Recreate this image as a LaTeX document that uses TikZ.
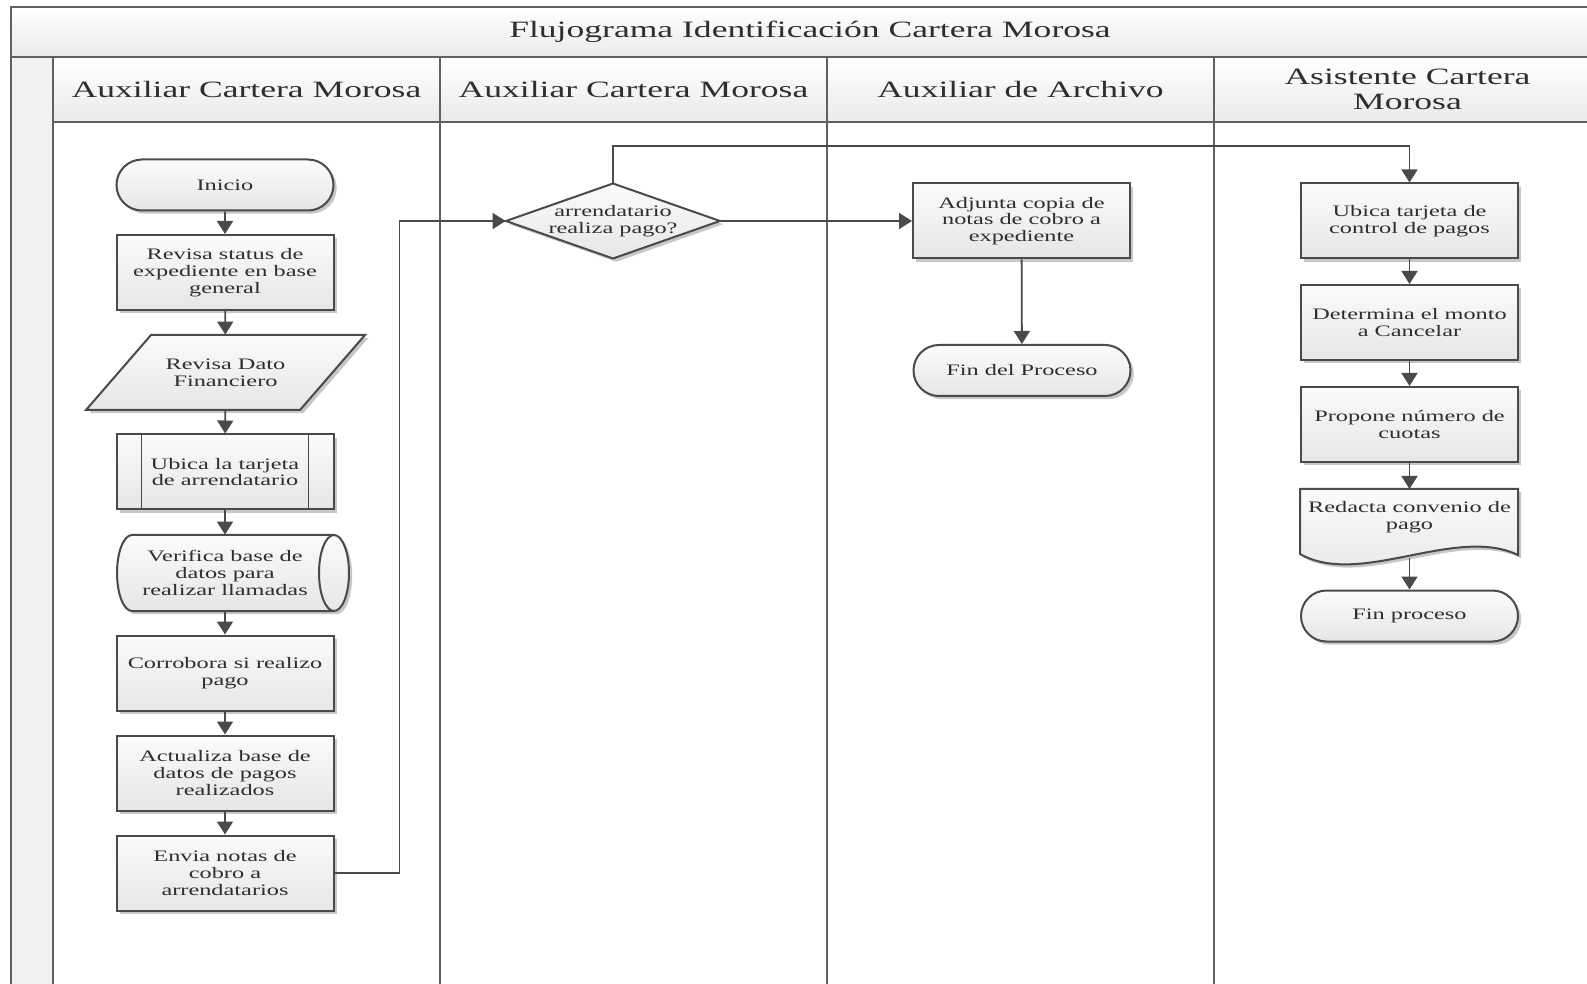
\documentclass[tikz,border=0pt]{standalone}
\usepackage{fontspec}
\newfontfamily\dgfont[FakeStretch=1.52]{Liberation Serif}
\usetikzlibrary{shapes.geometric,shapes.misc,arrows.meta,shadows}
\definecolor{linec}{HTML}{4A4A4A}
\definecolor{framec}{HTML}{606060}
\definecolor{txtc}{HTML}{2E2E2E}
\definecolor{boxtop}{HTML}{FBFBFB}
\definecolor{boxbot}{HTML}{E6E6E6}
\definecolor{hdrbot}{HTML}{EAEAEA}
\definecolor{stripc}{HTML}{F2F2F2}
\begin{document}
\begin{tikzpicture}[x=0.5pt,y=-0.5pt,
  frame/.style={draw=framec, line width=1pt},
  ln/.style={draw=linec, line width=0.9pt},
  arr/.style={ln, -{Triangle[width=8pt,length=6.5pt]}},
  shd/.style={drop shadow={shadow xshift=1.6pt, shadow yshift=-1.6pt, opacity=0.22, fill=black}},
  shapefill/.style={draw=linec, line width=1pt, top color=boxtop, bottom color=boxbot, shd},
  txt/.style={align=center, text=txtc, font=\dgfont\fontsize{8}{8.4}\selectfont, inner sep=0pt},
  box/.style={txt, shapefill, rectangle, minimum width=108.5pt, minimum height=37.5pt},
  term/.style={txt, shapefill, rounded rectangle, minimum width=108.5pt, minimum height=25.5pt},
  inv/.style={txt, rectangle, minimum width=20pt},
  hdr/.style={align=center, text=txtc, font=\dgfont\fontsize{11.7}{12.2}\selectfont, inner sep=0pt}
]
\useasboundingbox (0,0) rectangle (1587,984);
\begin{scope}
\clip (0,0) rectangle (1587,984);
\fill[white] (0,0) rectangle (1587,984);
\shade[top color=white, bottom color=hdrbot] (11,7) rectangle (1610,57);
\shade[top color=white, bottom color=hdrbot] (53,57) rectangle (1610,122);
\fill[stripc] (11,57) rectangle (53,990);
\draw[frame] (11,990) -- (11,7) -- (1610,7);
\draw[frame] (11,57) -- (1610,57);
\draw[frame] (53,57) -- (53,990);
\draw[frame] (53,122) -- (1610,122);
\foreach \x in {440,827,1214} \draw[frame] (\x,57) -- (\x,990);
\end{scope}

% title and lane headers
\node[hdr] (title) at (810,32) {Flujograma Identificación Cartera Morosa};
\node[hdr] (h1) at (246.5,89.5) {Auxiliar Cartera Morosa};
\node[hdr] (h2) at (633.5,89.5) {Auxiliar Cartera Morosa};
\node[hdr] (h3) at (1020.5,89.5) {Auxiliar de Archivo};
\node[hdr] (h4) at (1407.5,89.5) {Asistente Cartera\\Morosa};

% lane 1
\node[term] (n1) at (225,185) {Inicio};
\node[box] (n2) at (225,272.5) {Revisa status de\\expediente en base\\general};
\path[shapefill] (86,410) -- (300,410) -- (365,335) -- (151,335) -- cycle;
\node[inv, minimum height=37.5pt] (n3) at (225.5,372.5) {Revisa Dato\\Financiero};
\node[box] (n4) at (225,472) {Ubica la tarjeta\\de arrendatario};
\draw[ln] ([xshift=13pt]n4.north west) -- ([xshift=13pt]n4.south west);
\draw[ln] ([xshift=-13pt]n4.north east) -- ([xshift=-13pt]n4.south east);
\path[shapefill] (132,535) -- (334,535) arc[start angle=90, end angle=-90, x radius=7.5pt, y radius=19pt]
  -- (132,611) arc[start angle=-90, end angle=-270, x radius=7.5pt, y radius=19pt] -- cycle;
\draw[draw=linec, line width=1pt] (334,535) arc[start angle=90, end angle=270, x radius=7.5pt, y radius=19pt];
\node[inv, minimum height=38pt] (n5) at (225,573) {Verifica base de\\datos para\\realizar llamadas};
\node[box] (n6) at (225,673) {Corrobora si realizo\\pago};
\node[box] (n7) at (225,773) {Actualiza base de\\datos de pagos\\realizados};
\node[box] (n8) at (225,873) {Envia notas de\\cobro a\\arrendatarios};

\draw[arr] (n1) -- (n2);
\draw[arr] (n2) -- (n3);
\draw[arr] (n3) -- (n4);
\draw[arr] (n4) -- (n5);
\draw[arr] (n5) -- (n6);
\draw[arr] (n6) -- (n7);
\draw[arr] (n7) -- (n8);

% lane 2
\path[shapefill] (506,221) -- (613,183.5) -- (720,221) -- (613,258.5) -- cycle;
\node[inv, minimum width=107pt, minimum height=37.5pt] (d1) at (613,221) {arrendatario\\realiza pago?};
\draw[arr] (n8.east) -- ++(65,0) |- (d1.west);

% lane 3
\node[box] (a1) at (1021.5,221) {Adjunta copia de\\notas de cobro a\\expediente};
\node[term] (a2) at (1022,370.5) {Fin del Proceso};
\draw[arr] (d1.east) -- (a1.west);
\draw[arr] (a1) -- (a2);

% lane 4
\node[box] (u1) at (1409.5,221) {Ubica tarjeta de\\control de pagos};
\node[box] (u2) at (1409.5,322.5) {Determina el monto\\a Cancelar};
\node[box] (u3) at (1409.5,424.5) {Propone número de\\cuotas};
\path[shapefill] (1300,489) -- (1518,489) -- (1518,555) .. controls (1455,525) and (1360,588) .. (1300,554) -- cycle;
\node[inv] (u4) at (1409.5,517) {Redacta convenio de\\pago};
\coordinate (u4b) at (1409.5,558);
\node[term] (u5) at (1409.5,616) {Fin proceso};
\coordinate (topturn) at (613,146);
\draw[arr] (d1.north) -- (topturn) -| (u1.north);
\draw[arr] (u1) -- (u2);
\draw[arr] (u2) -- (u3);
\draw[arr] (u3.south) -- (u3.south |- 0,489);
\draw[arr] (u4b) -- (u5);
\end{tikzpicture}
\end{document}
